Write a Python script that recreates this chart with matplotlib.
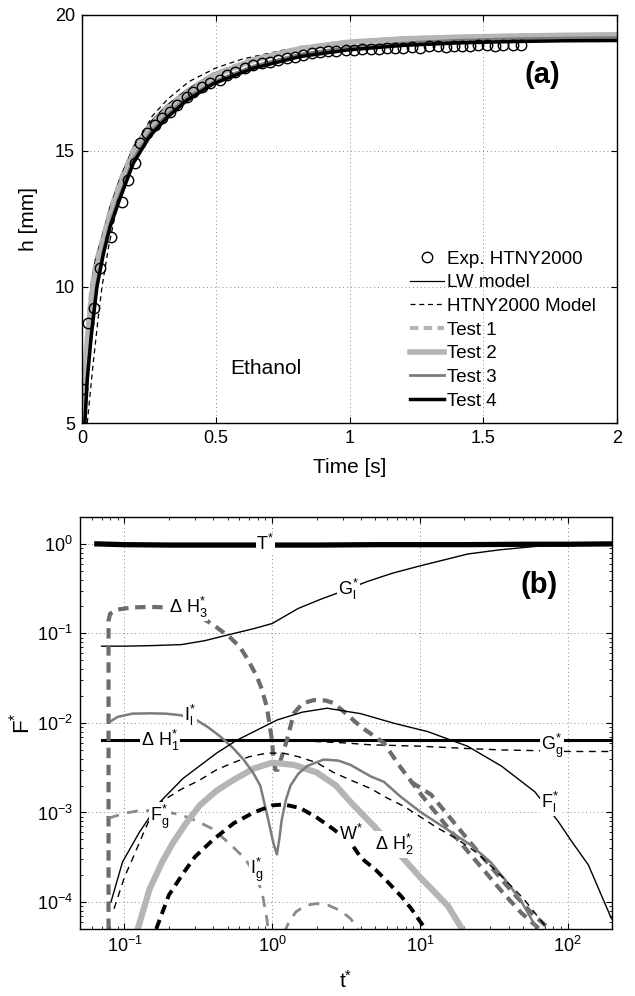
import numpy as np
import matplotlib
matplotlib.use("Agg")
import matplotlib.pyplot as plt
from matplotlib import ticker

plt.rcParams['font.family'] = ['Liberation Sans', 'DejaVu Sans']
plt.rcParams['font.size'] = 12
plt.rcParams['mathtext.fontset'] = 'custom'
plt.rcParams['mathtext.rm'] = 'Liberation Sans'
plt.rcParams['mathtext.it'] = 'Liberation Sans:italic'
plt.rcParams['mathtext.bf'] = 'Liberation Sans:bold'

LIGHT = '#b5b5b5'
MID = '#7c7c7c'
DARKG = '#6c6c6c'

# ---- panel (a): capillary rise of ethanol ----
exp_t = [0.0, 0.024, 0.046, 0.067, 0.11, 0.148, 0.173, 0.198, 0.217, 0.242, 0.273,
         0.298, 0.329, 0.354, 0.391, 0.416, 0.448, 0.479, 0.516, 0.541, 0.572, 0.609,
         0.64, 0.672, 0.703, 0.733, 0.765, 0.796, 0.826, 0.859, 0.89, 0.92, 0.95,
         0.985, 1.015, 1.045, 1.08, 1.11, 1.14, 1.17, 1.2, 1.235, 1.265, 1.295, 1.33,
         1.36, 1.39, 1.42, 1.45, 1.48, 1.515, 1.545, 1.575, 1.61, 1.64]
exp_h = [6.25, 8.68, 9.23, 10.7, 11.85, 13.14, 13.93, 14.55, 15.3, 15.66, 15.96,
         16.2, 16.45, 16.69, 17.0, 17.18, 17.36, 17.49, 17.61, 17.79, 17.92, 18.04,
         18.16, 18.22, 18.28, 18.35, 18.4, 18.47, 18.53, 18.59, 18.62, 18.66, 18.68,
         18.7, 18.72, 18.73, 18.76, 18.74, 18.78, 18.8, 18.79, 18.82, 18.8, 18.84, 18.85,
         18.83, 18.86, 18.87, 18.85, 18.88, 18.89, 18.87, 18.9, 18.89, 18.9]

t_fast = [0.0025, 0.01, 0.02, 0.036, 0.05, 0.08, 0.105, 0.142, 0.192, 0.254, 0.317,
          0.391, 0.491, 0.64, 0.815, 1.0, 1.2, 1.4, 1.6, 1.8, 2.0]
lw_h = [5.2, 7.1, 8.5, 10.2, 11.0, 12.05, 12.95, 14.0, 15.15, 16.05, 16.68, 17.25,
        17.85, 18.4, 18.8, 19.03, 19.14, 19.2, 19.24, 19.26, 19.28]
test1_h = [5.0, 6.9, 8.3, 10.0, 10.85, 11.9, 12.8, 13.9, 15.05, 15.95, 16.6, 17.2,
           17.82, 18.38, 18.79, 19.02, 19.13, 19.19, 19.23, 19.25, 19.27]
test2_h = [5.0, 6.6, 8.0, 9.6, 10.5, 11.7, 12.6, 13.7, 14.9, 15.82, 16.5, 17.12,
           17.76, 18.34, 18.76, 19.0, 19.12, 19.18, 19.22, 19.25, 19.27]

htny_t = [0.02, 0.04, 0.06, 0.075, 0.1, 0.13, 0.17, 0.21, 0.26, 0.32, 0.4, 0.5, 0.6,
          0.75, 0.9, 1.1, 1.3, 1.5, 1.75, 2.0]
htny_h = [5.0, 7.0, 8.8, 10.0, 11.5, 12.9, 14.3, 15.3, 16.25, 16.9, 17.55, 18.05, 18.38,
          18.7, 18.9, 19.06, 19.15, 19.21, 19.25, 19.28]

t_slow = [0.011, 0.02, 0.035, 0.056, 0.08, 0.105, 0.142, 0.192, 0.254, 0.317, 0.391,
          0.491, 0.64, 0.815, 1.0, 1.2, 1.4, 1.6, 1.8, 2.0]
test3_h = [5.0, 6.8, 8.4, 10.15, 11.35, 12.35, 13.4, 14.7, 15.68, 16.32, 16.95, 17.55,
           18.12, 18.56, 18.82, 18.97, 19.07, 19.12, 19.15, 19.17]
test4_h = [5.0, 6.6, 8.2, 10.0, 11.2, 12.2, 13.25, 14.55, 15.55, 16.22, 16.85,
           17.47, 18.04, 18.47, 18.72, 18.88, 18.97, 19.02, 19.05, 19.06]

# ---- panel (b): dimensionless force terms ----
T_t = [0.065, 0.1, 0.2, 0.5, 1, 2, 5, 10, 20, 50, 100, 200]
T_F = [1.0, 0.98, 0.97, 0.97, 0.97, 0.97, 0.98, 0.98, 0.98, 0.99, 0.99, 1.0]

Gl_t = [0.07, 0.1, 0.15, 0.243, 0.35, 0.518, 0.75, 1.0, 1.5, 2.12, 3.22, 4.4, 6.5,
        10.1, 15, 21, 35, 54, 66, 100, 200]
Gl_F = [0.072, 0.072, 0.073, 0.075, 0.083, 0.0975, 0.113, 0.129, 0.19, 0.24, 0.31,
        0.38, 0.47, 0.57, 0.67, 0.77, 0.86, 0.92, 0.95, 0.97, 0.98]

dH1_t = [0.07, 200]
dH1_F = [0.0064, 0.0064]

Gg_t = [0.07, 1, 2, 3, 4.64, 10, 20, 35, 63, 100, 200]
Gg_F = [0.0064, 0.0064, 0.0062, 0.006, 0.0057, 0.0055, 0.0052, 0.005, 0.0049, 0.0048, 0.0048]

dH3_t = [0.078, 0.078, 0.08, 0.09, 0.113, 0.15, 0.19, 0.24, 0.3, 0.42, 0.52, 0.606,
         0.68, 0.746, 0.787, 0.85, 0.92, 0.995, 1.02, 1.05, 1.09, 1.16, 1.26, 1.4,
         1.6, 1.91, 2.3, 2.6, 3.2, 3.97, 4.8, 5.69, 7.43, 10.2, 13.9, 19.0, 26.0,
         35.6, 48.6, 63.5]
dH3_F = [5e-5, 0.14, 0.166, 0.185, 0.195, 0.198, 0.195, 0.19, 0.17, 0.117, 0.09,
         0.07, 0.052, 0.039, 0.033, 0.024, 0.015, 0.0065, 0.004, 0.003, 0.003, 0.0042,
         0.0065, 0.0128, 0.0165, 0.018, 0.0178, 0.0167, 0.0125, 0.0091, 0.0073, 0.006,
         0.00316, 0.00158, 8.4e-4, 4.5e-4, 2.45e-4, 1.33e-4, 7.55e-5, 5.1e-5]
dH3b_t = [8.7, 11.9, 16.3, 22.2, 30.4, 41.6, 56.8, 74.2]
dH3b_F = [0.0022, 0.00158, 8.4e-4, 4.5e-4, 2.45e-4, 1.33e-4, 7.55e-5, 5.1e-5]

Il_t = [0.081, 0.09, 0.113, 0.15, 0.19, 0.24, 0.307, 0.37, 0.443, 0.54, 0.64, 0.74,
        0.83, 0.94, 1.02, 1.076, 1.12, 1.16, 1.24, 1.33, 1.5, 1.72, 2.23, 2.8, 3.39,
        4.64, 5.7, 7.4, 10.2, 15, 22.2, 30, 37.5, 48, 60]
Il_F = [0.0105, 0.0117, 0.0127, 0.0128, 0.0127, 0.0122, 0.0108, 0.0089, 0.0071,
        0.0053, 0.0039, 0.0028, 0.002, 0.00083, 0.00045, 0.00034, 0.00052, 0.00083,
        0.0014, 0.002, 0.0027, 0.0033, 0.0039, 0.0038, 0.0034, 0.00253, 0.0022,
        0.0015, 0.001, 6.6e-4, 4.3e-4, 2.8e-4, 1.8e-4, 1.05e-4, 5.5e-5]

Fl_t = [0.081, 0.097, 0.126, 0.173, 0.249, 0.42, 0.575, 1.08, 1.6, 2.35, 3.97, 6.7,
        11.3, 21, 35.6, 60, 86, 106, 138, 198]
Fl_F = [1e-4, 2.8e-4, 6e-4, 1.3e-3, 2.4e-3, 4.6e-3, 6.4e-3, 0.0108, 0.0132, 0.0146,
        0.0127, 0.0099, 0.008, 0.0055, 0.0033, 0.0017, 8e-4, 4.8e-4, 2.6e-4, 6.5e-5]

Fd_t = [0.085, 0.1, 0.113, 0.135, 0.155, 0.18, 0.24, 0.323, 0.42, 0.545, 0.7, 0.92,
        1.19, 1.5, 2.0, 2.6, 3.39, 4.64, 6, 7.8, 10, 13, 18, 24.6, 35, 50, 70]
Fd_F = [8.4e-5, 1.9e-4, 3e-4, 6e-4, 1e-3, 1.34e-3, 1.8e-3, 2.3e-3, 3e-3, 3.6e-3,
        4.2e-3, 4.6e-3, 4.6e-3, 4.2e-3, 3.6e-3, 2.8e-3, 2.3e-3, 1.85e-3, 1.45e-3,
        1.17e-3, 9e-4, 6.8e-4, 5e-4, 3.5e-4, 2e-4, 1.1e-4, 5.5e-5]

W_t = [0.164, 0.2, 0.25, 0.3, 0.4, 0.55, 0.75, 1.0, 1.2, 1.55, 2.0, 2.6, 3.4, 4.0,
       5.0, 6.0, 7.5, 8.7, 10.7]
W_F = [5e-5, 1.2e-4, 2.1e-4, 3.2e-4, 5e-4, 7.6e-4, 1.0e-3, 1.2e-3, 1.23e-3, 1.12e-3,
       8.8e-4, 6.5e-4, 4.6e-4, 3.1e-4, 2.3e-4, 1.7e-4, 1.15e-4, 8.5e-5, 5.2e-5]

dH2_t = [0.123, 0.148, 0.18, 0.213, 0.26, 0.323, 0.42, 0.545, 0.75, 1.0, 1.4, 2.0,
         2.7, 3.4, 4.9, 6.5, 7.8, 10, 12.5, 15.5, 19]
dH2_F = [5e-5, 1.4e-4, 2.8e-4, 4.6e-4, 7.5e-4, 1.2e-3, 1.75e-3, 2.3e-3, 3.1e-3,
         3.6e-3, 3.4e-3, 2.8e-3, 2e-3, 1.3e-3, 7e-4, 4.2e-4, 3e-4, 1.9e-4, 1.3e-4,
         9e-5, 5.2e-5]

# gas-phase curve, second hump after the sign change
Ig_t = [0.078, 0.081, 0.1, 0.126, 0.17, 0.237, 0.3, 0.4, 0.545, 0.66, 0.787, 0.86,
        0.92, 0.95, np.nan, 1.2, 1.3, 1.45, 1.7, 2.0, 2.4, 2.9, 3.4, 3.8]
Ig_F = [8.5e-4, 8.8e-4, 9.8e-4, 1.05e-3, 1.05e-3, 9.5e-4, 8.2e-4, 6.5e-4, 4.1e-4,
        3.0e-4, 1.9e-4, 1.2e-4, 6.5e-5, 4e-5, np.nan, 4.5e-5, 6e-5, 7.8e-5, 9.2e-5,
        9.6e-5, 9.2e-5, 8e-5, 6.5e-5, 5e-5]

fig = plt.figure(figsize=(6.35, 9.96), dpi=100)


def style_axes(ax, tick_size):
    ax.tick_params(which='both', direction='in', top=True, right=True, labelsize=tick_size)
    ax.tick_params(which='major', length=4.5, width=0.8, pad=5)
    ax.tick_params(which='minor', length=2.4, width=0.6)
    for s in ax.spines.values():
        s.set_linewidth(1.0)
    ax.grid(True, which='major', linestyle=(0, (1, 3)), color='#888888', linewidth=0.7)
    ax.set_axisbelow(True)


# ---- (a) ----
ax1 = fig.add_axes([0.129, 0.5753, 0.843, 0.4097])
ax1.plot(t_fast, lw_h, '-', color='black', lw=0.9, label='LW model')
ax1.plot(htny_t, htny_h, '--', color='black', lw=0.9, dashes=(4, 3), label='HTNY2000 Model')
ax1.plot(t_fast, test1_h, '--', color=LIGHT, lw=3, dashes=(2, 1.3), label='Test 1')
ax1.plot(t_fast, test2_h, '-', color=LIGHT, lw=4, label='Test 2')
ax1.plot(t_slow, test3_h, '-', color=MID, lw=2, label='Test 3')
ax1.plot(t_slow, test4_h, '-', color='black', lw=2.5, label='Test 4')
ax1.plot(exp_t, exp_h, 'o', mfc='none', mec='black', ms=7.5, mew=1.0, label='Exp. HTNY2000')
ax1.set_xlim(0, 2)
ax1.set_ylim(5, 20)
ax1.set_xticks([0, 0.5, 1, 1.5, 2])
ax1.set_yticks([5, 10, 15, 20])
ax1.xaxis.set_major_formatter(ticker.FormatStrFormatter('%g'))
style_axes(ax1, 13)
ax1.set_xlabel('Time [s]', fontsize=15, labelpad=8)
ax1.set_ylabel('h [mm]', fontsize=15, labelpad=12)
ax1.text(0.553, 7.0, 'Ethanol', fontsize=15, va='center', ha='left')
ax1.text(1.72, 17.8, '(a)', fontsize=21, fontweight='bold', ha='center', va='center')
handles, names = ax1.get_legend_handles_labels()
order = [6, 0, 1, 2, 3, 4, 5]
ax1.legend([handles[i] for i in order], [names[i] for i in order],
           loc='upper left', bbox_to_anchor=(0.612, 0.423), frameon=False, fontsize=13.5,
           handlelength=1.85, handletextpad=0.15, labelspacing=0.35, borderpad=0,
           borderaxespad=0)

# ---- (b) ----
ax2 = fig.add_axes([0.126, 0.0673, 0.838, 0.4137])
ax2.set_xscale('log')
ax2.set_yscale('log')
ax2.plot(T_t, T_F, '-', color='black', lw=3.8)
ax2.plot(Gl_t, Gl_F, '-', color='black', lw=1.0)
ax2.plot(dH1_t, dH1_F, '-', color='black', lw=2.2)
ax2.plot(Gg_t, Gg_F, '--', color='black', lw=1.0, dashes=(5, 4))
ax2.plot(dH3_t, dH3_F, '--', color=DARKG, lw=3.0, dashes=(2.5, 1.6))
ax2.plot(dH3b_t, dH3b_F, '--', color=DARKG, lw=3.0, dashes=(2.5, 1.6))
ax2.plot(Ig_t, Ig_F, '--', color='#8a8a8a', lw=2.0, dashes=(4, 3))
ax2.plot(dH2_t, dH2_F, '-', color=LIGHT, lw=4.5)
ax2.plot(Il_t, Il_F, '-', color=MID, lw=1.8)
ax2.plot(Fl_t, Fl_F, '-', color='black', lw=1.0)
ax2.plot(Fd_t, Fd_F, '--', color='black', lw=1.0, dashes=(5, 4))
ax2.plot(W_t, W_F, '--', color='black', lw=2.8, dashes=(2.5, 1.6))
ax2.set_xlim(0.05, 200)
ax2.set_ylim(5e-5, 2)
ax2.xaxis.set_major_locator(ticker.LogLocator(base=10, numticks=10))
ax2.yaxis.set_major_locator(ticker.LogLocator(base=10, numticks=10))
ax2.xaxis.set_minor_locator(ticker.LogLocator(base=10, subs=np.arange(2, 10), numticks=20))
ax2.yaxis.set_minor_locator(ticker.LogLocator(base=10, subs=np.arange(2, 10), numticks=20))
ax2.yaxis.set_minor_formatter(ticker.NullFormatter())
ax2.xaxis.set_minor_formatter(ticker.NullFormatter())
style_axes(ax2, 13)
ax2.set_xlabel(r'$\mathrm{t}^{*}$', fontsize=15, labelpad=10)
ax2.set_ylabel(r'$\mathrm{F}^{*}$', fontsize=16, labelpad=2)

box = dict(facecolor='white', edgecolor='none', pad=0.6)
labels = [
    (0.9, 1.0, r'$\mathrm{T}^{*}$'),
    (3.3, 0.31, r'$\mathrm{G}_{\mathrm{l}}^{*}$'),
    (0.27, 0.195, r'$\Delta\ \mathrm{H}_{3}^{*}$'),
    (0.277, 0.0122, r'$\mathrm{I}_{\mathrm{l}}^{*}$'),
    (0.174, 0.0064, r'$\Delta\ \mathrm{H}_{1}^{*}$'),
    (78, 0.0056, r'$\mathrm{G}_{\mathrm{g}}^{*}$'),
    (0.174, 9e-4, r'$\mathrm{F}_{\mathrm{g}}^{*}$'),
    (0.78, 2.3e-4, r'$\mathrm{I}_{\mathrm{g}}^{*}$'),
    (3.4, 5.7e-4, r'$\mathrm{W}^{*}$'),
    (6.75, 4.4e-4, r'$\Delta\ \mathrm{H}_{2}^{*}$'),
    (76, 1.3e-3, r'$\mathrm{F}_{\mathrm{l}}^{*}$'),
]
for x, y, s in labels:
    ax2.text(x, y, s, fontsize=13, ha='center', va='center', bbox=box, zorder=6)
ax2.text(64.5, 0.35, '(b)', fontsize=21, fontweight='bold', ha='center', va='center')

fig.savefig('out.png', dpi=100)
